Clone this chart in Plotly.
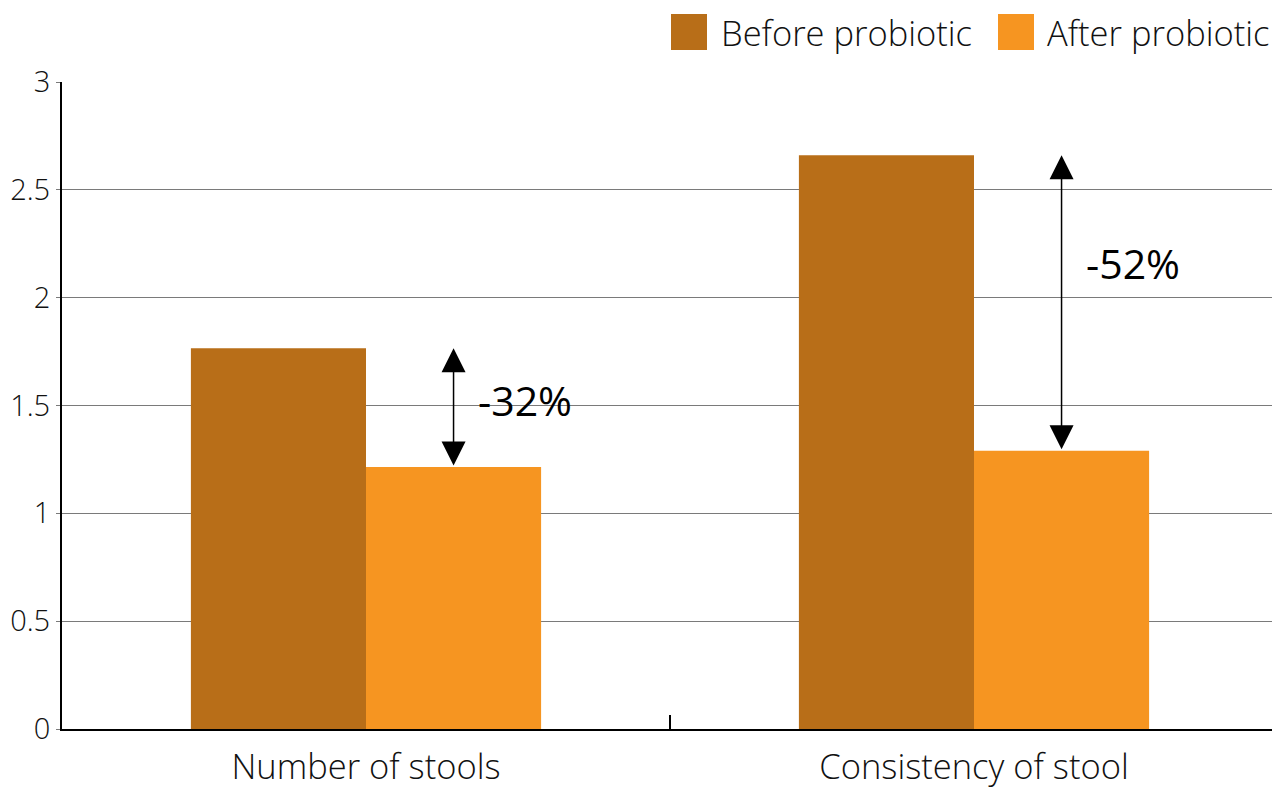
import plotly.graph_objects as go

categories = ["Number of stools", "Consistency of stool"]
before = [1.765, 2.66]
after = [1.215, 1.29]
changes = ["-32%", "-52%"]
series_names = ["Before probiotic", "After probiotic"]
y_ticks = [0, 0.5, 1, 1.5, 2, 2.5, 3]

colors = ["#B86E18", "#F69521"]
font = dict(family="Open Sans", size=34.5, color="#111111", weight=300)
yfont = dict(family="Open Sans", size=29, color="#111111", weight=300)
pct_font = dict(family="Open Sans", size=41, color="black", weight=400)

fig = go.Figure()
fig.add_trace(go.Bar(x=categories, y=before, name=series_names[0], marker_color=colors[0], marker_line_width=0))
fig.add_trace(go.Bar(x=categories, y=after, name=series_names[1], marker_color=colors[1], marker_line_width=0))

bargap = 0.424
off = (1 - bargap) / 4
for i in range(len(categories)):
    # double-headed arrow from after bar top up to before bar level
    fig.add_annotation(x=i + off, y=before[i], ax=i + off, ay=after[i],
                       xref="x", yref="y", axref="x", ayref="y",
                       text="", showarrow=True, arrowhead=2, startarrowhead=2,
                       arrowside="end+start", arrowsize=3.2, startarrowsize=3.2,
                       arrowwidth=1.5, arrowcolor="black")

fig.add_annotation(x=off + 0.117, y=1.525, text=changes[0], showarrow=False,
                   xref="x", yref="y", font=pct_font)
fig.add_annotation(x=1 + off + 0.117, y=2.16, text=changes[1], showarrow=False,
                   xref="x", yref="y", font=pct_font)

# legend drawn by hand (large square swatches), page pixel -> paper coords
W, H = 1216, 647
def px(x):
    return (x - 62) / W
def py(y):
    return (729 - y) / H
for name, c, x0, tx in [(series_names[0], colors[0], 671, 719), (series_names[1], colors[1], 998, 1045)]:
    fig.add_shape(type="rect", xref="paper", yref="paper", x0=px(x0), x1=px(x0 + 36),
                  y0=py(50), y1=py(14), fillcolor=c, line_width=0)
    fig.add_annotation(xref="paper", yref="paper", x=px(tx), y=py(32), text=name,
                       showarrow=False, xanchor="left", yanchor="middle", font=font)

fig.update_layout(
    width=1272, height=784,
    margin=dict(l=54, r=2, t=74, b=63),
    paper_bgcolor="white", plot_bgcolor="white",
    barmode="group", bargap=bargap, bargroupgap=0,
    showlegend=False,
    font=font,
)
fig.update_xaxes(
    type="category", automargin=False,
    showline=True, linecolor="black", linewidth=2,
    ticks="inside", tickson="boundaries", ticklen=14, tickcolor="black", tickwidth=1.5,
    showgrid=False, tickfont=font, ticklabelstandoff=7,
)
fig.update_yaxes(
    range=[0, 3], tickvals=y_ticks, ticktext=[str(v) for v in y_ticks],
    automargin=False,
    showline=True, linecolor="black", linewidth=2,
    showgrid=True, gridcolor="#7a7a7a", gridwidth=1,
    ticks="outside", ticklen=4, tickcolor="#7a7a7a", zeroline=False,
    tickfont=yfont, ticklabelstandoff=0,
)

fig.write_html("out.html")
